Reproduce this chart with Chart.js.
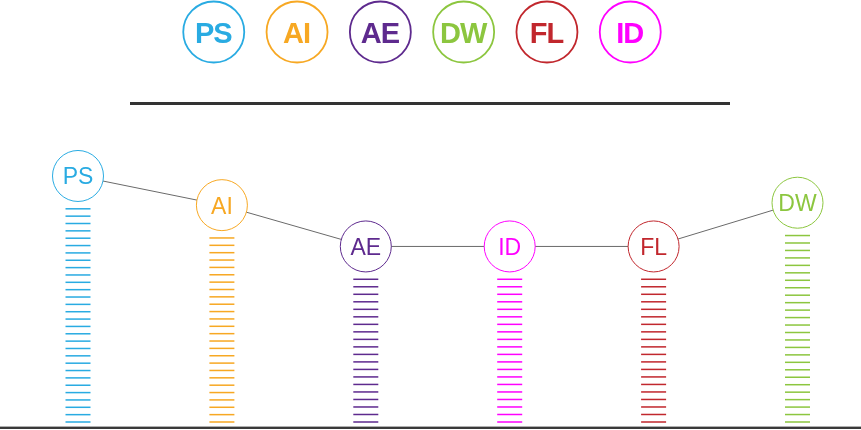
<!DOCTYPE html>
<html>
<head>
<meta charset="utf-8">
<script src="https://cdn.jsdelivr.net/npm/chart.js@4.4.1/dist/chart.umd.min.js"></script>
<style>
  html, body { margin: 0; padding: 0; background: #ffffff; }
  #wrap { width: 861px; height: 430px; position: relative; }
</style>
</head>
<body>
<div id="wrap"><canvas id="c" width="861" height="430"></canvas></div>
<script>
// ---- data ----
const categories = ['PS', 'AI', 'AE', 'ID', 'FL', 'DW'];
const skillValues = [90, 78, 61, 61, 61, 79];
const legendNames = ['PS', 'AI', 'AE', 'DW', 'FL', 'ID'];

// ---- styles ----
const skillColors = {
  PS: '#29abe2',
  AI: '#f7a823',
  AE: '#5e2a8e',
  DW: '#8cc63f',
  FL: '#c1272d',
  ID: '#ff00ff'
};

const decorPlugin = {
  id: 'decor',
  beforeDatasetsDraw(chart) {
    const ctx = chart.ctx;
    ctx.save();
    // top legend
    const n = legendNames.length;
    const cx0 = 422, gap = 83.3, cy = 32;
    legendNames.forEach((name, i) => {
      const x = cx0 + (i - (n - 1) / 2) * gap;
      ctx.beginPath();
      ctx.arc(x, cy, 30.5, 0, Math.PI * 2);
      ctx.lineWidth = 1.8;
      ctx.strokeStyle = skillColors[name];
      ctx.fillStyle = '#fff';
      ctx.fill();
      ctx.stroke();
      ctx.fillStyle = skillColors[name];
      ctx.font = 'bold 29px "Liberation Sans", Arial, sans-serif';
      ctx.textAlign = 'center';
      ctx.textBaseline = 'alphabetic';
      ctx.letterSpacing = '-1px';
      ctx.fillText(name, x - 0.5, cy + 11);
      ctx.letterSpacing = '0px';
    });
    // separator
    ctx.fillStyle = '#333';
    ctx.fillRect(130, 102, 600, 3);
    // baseline
    ctx.fillStyle = '#3a3a3a';
    ctx.fillRect(0, chart.chartArea.bottom, chart.width, 2);
    ctx.fillStyle = '#b0b0b0';
    ctx.fillRect(0, chart.chartArea.bottom - 1, chart.width, 1);
    // striped bars
    const meta = chart.getDatasetMeta(1);
    meta.data.forEach((el, i) => {
      const color = skillColors[categories[i]];
      const top = el.y + 0.5;
      const bottom = el.base - 5;
      const count = Math.round((bottom - top) / 7.4);
      const step = (bottom - top) / count;
      ctx.fillStyle = color;
      for (let k = 0; k <= count; k++) {
        ctx.fillRect(el.x - 12.5, top + k * step - 0.75, 25, 1.5);
      }
    });
    ctx.restore();
  },
  afterDatasetsDraw(chart) {
    const ctx = chart.ctx;
    ctx.save();
    const meta = chart.getDatasetMeta(0);
    meta.data.forEach((el, i) => {
      const name = categories[i];
      ctx.fillStyle = skillColors[name];
      ctx.font = '23px "Liberation Sans", Arial, sans-serif';
      ctx.textAlign = 'center';
      ctx.textBaseline = 'alphabetic';
      ctx.fillText(name, el.x, el.y + 8.5);
    });
    ctx.restore();
  }
};

new Chart(document.getElementById('c'), {
  type: 'bar',
  data: {
    labels: categories,
    datasets: [
      {
        type: 'line',
        data: skillValues,
        yAxisID: 'yLine',
        borderColor: '#6a6a6a',
        borderWidth: 1,
        pointRadius: 25.5,
        pointHoverRadius: 25.5,
        pointBackgroundColor: '#ffffff',
        pointBorderColor: categories.map(c => skillColors[c]),
        pointBorderWidth: 1,
        clip: false,
        order: 0
      },
      {
        type: 'bar',
        data: skillValues,
        yAxisID: 'y',
        backgroundColor: 'rgba(0,0,0,0)',
        barThickness: 25,
        clip: false,
        order: 1
      }
    ]
  },
  options: {
    responsive: false,
    animation: false,
    devicePixelRatio: 1,
    layout: { autoPadding: false, padding: { left: 78, right: 63.5, top: 184, bottom: 3 } },
    scales: {
      x: { type: 'category', offset: false, display: false },
      y: { min: 0, max: 100, display: false },
      yLine: { min: -13.3, max: 86.7, display: false }
    },
    plugins: {
      legend: { display: false },
      tooltip: { enabled: false }
    }
  },
  plugins: [decorPlugin]
});
</script>
</body>
</html>
